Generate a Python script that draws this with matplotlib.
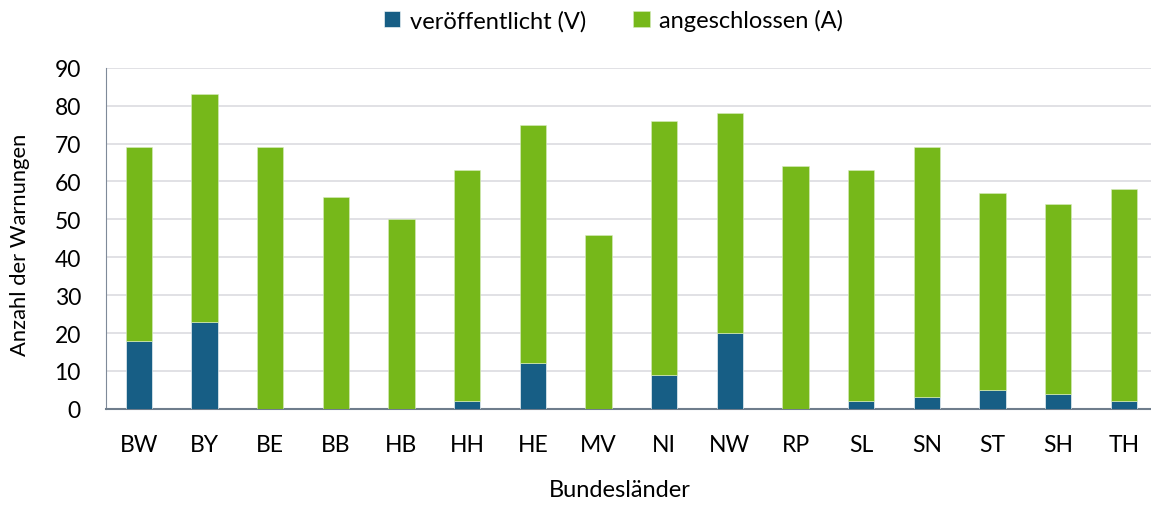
import matplotlib
matplotlib.use("Agg")
import matplotlib.pyplot as plt
import numpy as np

plt.rcParams['font.family'] = ['Lato', 'DejaVu Sans']

laender = ["BW", "BY", "BE", "BB", "HB", "HH", "HE", "MV", "NI", "NW", "RP", "SL", "SN", "ST", "SH", "TH"]
veroeffentlicht = [18, 23, 0, 0, 0, 2, 12, 0, 9, 20, 0, 2, 3, 5, 4, 2]
gesamt = [69, 83, 69, 56, 50, 63, 75, 46, 76, 78, 64, 63, 69, 57, 54, 58]
angeschlossen = [g - v for g, v in zip(gesamt, veroeffentlicht)]

blue = "#175E85"
green = "#76B81A"

fig = plt.figure(figsize=(11.51, 5.06), dpi=100)
ax = fig.add_axes([0.092, 0.19, 0.913, 0.674])

x = np.arange(len(laender))
w = 0.4
ax.bar(x, veroeffentlicht, w, color=blue, edgecolor="#ffffff", linewidth=0.4,
       label="veröffentlicht (V)", zorder=3)
ax.bar(x, angeschlossen, w, bottom=veroeffentlicht, color=green, edgecolor="#d8ecc0",
       linewidth=0.4, label="angeschlossen (A)", zorder=3)

ax.set_xlim(-0.5, len(laender) - 0.5)
ax.set_ylim(0, 90)
ax.set_yticks(range(0, 91, 10))
ax.set_xticks(x)
ax.set_xticklabels(laender)
ax.tick_params(axis='both', length=0, labelsize=16.5, colors="#000000")
ax.tick_params(axis='x', pad=18)
ax.tick_params(axis='y', pad=18)
ax.grid(axis='y', color="#dcdce0", linewidth=1.2, zorder=0)
for s in ["top", "right"]:
    ax.spines[s].set_visible(False)
ax.spines["left"].set_color("#7f8a99")
ax.spines["bottom"].set_color("#6f7d8c")
ax.spines["bottom"].set_linewidth(1.5)
ax.set_ylabel("Anzahl der Warnungen", fontsize=15.8)
ax.yaxis.set_label_coords(-0.072, 0.485)
ax.set_xlabel("Bundesländer", fontsize=17)
ax.xaxis.set_label_coords(0.489, -0.205)

fig.legend(loc="center", bbox_to_anchor=(0.533, 0.958), ncol=2, frameon=False,
           fontsize=17, handlelength=0.7, handleheight=0.7, columnspacing=2.0,
           handletextpad=0.4)

fig.savefig("out.png", dpi=100)
